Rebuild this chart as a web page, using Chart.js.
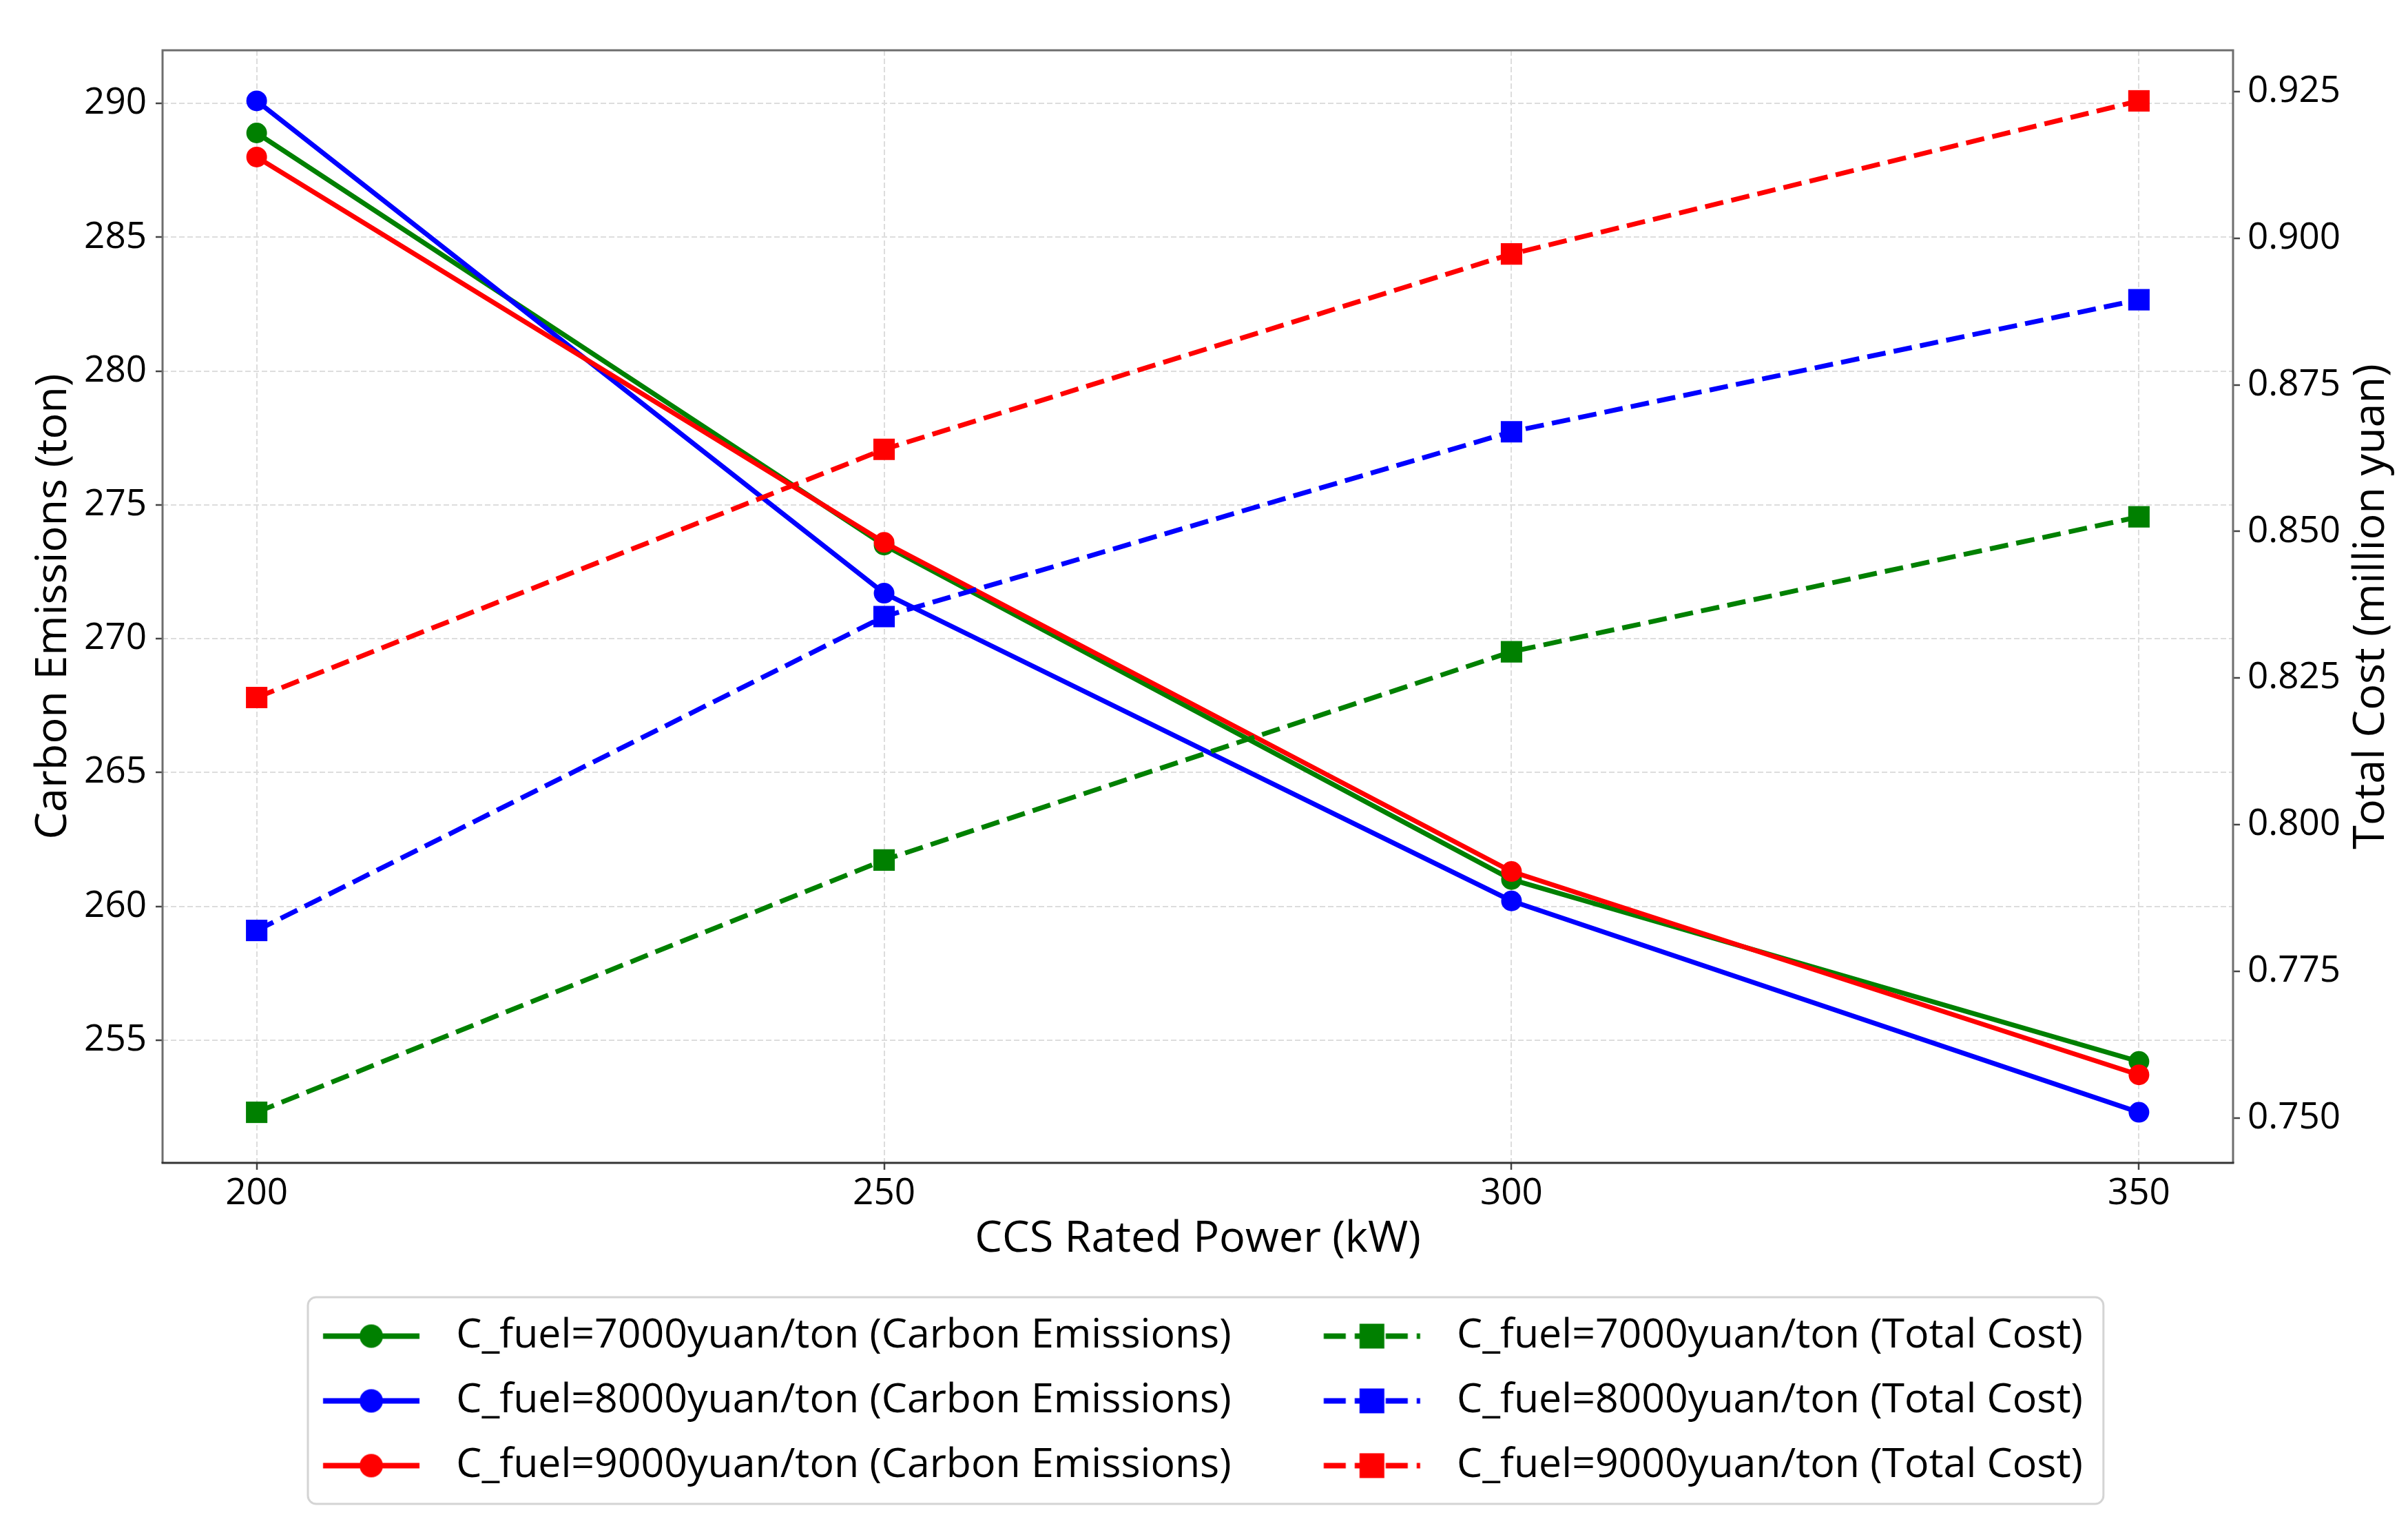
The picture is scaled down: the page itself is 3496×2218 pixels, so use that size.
<!DOCTYPE html>
<html>
<head>
<meta charset="utf-8">
<script src="https://cdn.jsdelivr.net/npm/chart.js@4.4.1/dist/chart.umd.min.js"></script>
<style>
  html, body { margin: 0; padding: 0; background: #ffffff; }
  #wrap { width: 3496px; height: 2218px; }
</style>
</head>
<body>
<div id="wrap"><canvas id="c" width="3496" height="2218"></canvas></div>
<script>
// ---------------- data ----------------
const xValues = [200, 250, 300, 350];
const xTicks = [200, 250, 300, 350];
const leftTicks = [255, 260, 265, 270, 275, 280, 285, 290];
const rightTicks = [0.750, 0.775, 0.800, 0.825, 0.850, 0.875, 0.900, 0.925];

const carbon7000 = [288.9, 273.5, 261.0, 254.2];
const carbon8000 = [290.1, 271.7, 260.2, 252.3];
const carbon9000 = [288.0, 273.6, 261.3, 253.7];

const cost7000 = [0.751, 0.794, 0.8295, 0.8525];
const cost8000 = [0.782, 0.8355, 0.867, 0.8895];
const cost9000 = [0.8217, 0.864, 0.8973, 0.9234];

const labelCarbon7000 = 'C_fuel=7000yuan/ton (Carbon Emissions)';
const labelCarbon8000 = 'C_fuel=8000yuan/ton (Carbon Emissions)';
const labelCarbon9000 = 'C_fuel=9000yuan/ton (Carbon Emissions)';
const labelCost7000 = 'C_fuel=7000yuan/ton (Total Cost)';
const labelCost8000 = 'C_fuel=8000yuan/ton (Total Cost)';
const labelCost9000 = 'C_fuel=9000yuan/ton (Total Cost)';

const xTitle = 'CCS Rated Power (kW)';
const yLeftTitle = 'Carbon Emissions (ton)';
const yRightTitle = 'Total Cost (million yuan)';

// ---------------- styling ----------------
const FONT = "'Open Sans', 'DejaVu Sans', sans-serif";
const GREEN = '#008000', BLUE = '#0000ff', RED = '#ff0000';
const TICK_FONT = 53, TITLE_FONT = 63, LEG_FONT = 59, LEG_PAD = 35;
const LINE_LEN = 140, R_PAD = 24;

// measure legend text to place the second column
const mctx = document.createElement('canvas').getContext('2d');
mctx.font = LEG_FONT + 'px ' + FONT;
const T1 = mctx.measureText(labelCarbon7000).width;
const L_PAD = Math.max(0, 1224.5 - T1);
const HANDLE_W = Math.round(L_PAD + LINE_LEN + R_PAD);

function makeHandle(color, dashed, shape) {
  const c = document.createElement('canvas');
  c.width = HANDLE_W; c.height = 48;
  const g = c.getContext('2d');
  const cy = 24;
  g.strokeStyle = color;
  g.lineWidth = 8;
  g.lineCap = 'butt';
  if (dashed) g.setLineDash([32, 13]);
  g.beginPath();
  g.moveTo(L_PAD, cy);
  g.lineTo(L_PAD + LINE_LEN, cy);
  g.stroke();
  g.setLineDash([]);
  g.fillStyle = color;
  const cx = L_PAD + LINE_LEN / 2;
  if (shape === 'circle') {
    g.beginPath(); g.arc(cx, cy, 17, 0, Math.PI * 2); g.fill();
  } else {
    g.fillRect(cx - 18, cy - 18, 36, 36);
  }
  return c;
}

function pts(arr) { return xValues.map((x, i) => ({ x: x, y: arr[i] })); }

function carbonDS(label, data, color, order) {
  return {
    label: label, data: pts(data), yAxisID: 'y',
    borderColor: color, backgroundColor: color, borderWidth: 7,
    pointStyle: 'circle', pointRadius: 15, pointHoverRadius: 15,
    pointBackgroundColor: color, pointBorderWidth: 0,
    tension: 0, fill: false, order: order,
    handle: makeHandle(color, false, 'circle')
  };
}
function costDS(label, data, color, order) {
  return {
    label: label, data: pts(data), yAxisID: 'y1',
    borderColor: color, backgroundColor: color, borderWidth: 7,
    borderDash: [27, 12],
    pointStyle: 'rect', pointRadius: 22, pointHoverRadius: 22,
    pointBackgroundColor: color, pointBorderWidth: 0,
    tension: 0, fill: false, order: order,
    handle: makeHandle(color, true, 'rect')
  };
}

// legend order (row-major): carbon 7000, cost 7000, carbon 8000, cost 8000, ...
const datasets = [
  carbonDS(labelCarbon7000, carbon7000, GREEN, 5),
  costDS(labelCost7000, cost7000, GREEN, 2),
  carbonDS(labelCarbon8000, carbon8000, BLUE, 4),
  costDS(labelCost8000, cost8000, BLUE, 1),
  carbonDS(labelCarbon9000, carbon9000, RED, 3),
  costDS(labelCost9000, cost9000, RED, 0)
];

function range(arrs, m) {
  const all = [].concat(...arrs);
  const lo = Math.min(...all), hi = Math.max(...all);
  const pad = (hi - lo) * m;
  return [lo - pad, hi + pad];
}
const xr = range([xValues], 0.05);
const yr = range([carbon7000, carbon8000, carbon9000], 0.05);
const y1r = range([cost7000, cost8000, cost9000], 0.05);

const CHART_TOP = 73, CHART_LEFT = 236, CHART_RIGHT_W = 254, X_AXIS_H = 187, BOTTOM_PAD = 51;

const bgAndFrame = {
  id: 'bgAndFrame',
  beforeDraw(chart) {
    const ctx = chart.ctx;
    ctx.save();
    ctx.fillStyle = '#ffffff';
    ctx.fillRect(0, 0, chart.width, chart.height);
    const lg = chart.legend;
    if (lg && lg.legendHitBoxes && lg.legendHitBoxes.length > 1) {
      const hb0 = lg.legendHitBoxes[0], hb1 = lg.legendHitBoxes[1];
      const left = hb0.left + L_PAD - 22;
      const right = hb1.left + hb1.width + 30;
      const top = lg.top + 8, bottom = lg.top + 308;
      const r = 12;
      ctx.beginPath();
      ctx.moveTo(left + r, top);
      ctx.lineTo(right - r, top);
      ctx.arcTo(right, top, right, top + r, r);
      ctx.lineTo(right, bottom - r);
      ctx.arcTo(right, bottom, right - r, bottom, r);
      ctx.lineTo(left + r, bottom);
      ctx.arcTo(left, bottom, left, bottom - r, r);
      ctx.lineTo(left, top + r);
      ctx.arcTo(left, top, left + r, top, r);
      ctx.closePath();
      ctx.fillStyle = '#ffffff';
      ctx.fill();
      ctx.lineWidth = 3;
      ctx.strokeStyle = '#d4d4d4';
      ctx.stroke();
    }
    ctx.restore();
  },
  afterLayout(chart) {
    const lg = chart.legend;
    if (!lg || !lg.lineWidths) return;
    const lw = lg.lineWidths[0];
    const cur = (lg.left + LEG_PAD + lg.right - lw) / 2;
    const want = 469 - L_PAD;
    const d = want - cur;
    lg.left += d; lg.right += d;
  },
  afterDatasetsDraw(chart) {
    const a = chart.chartArea, ctx = chart.ctx;
    ctx.save();
    ctx.lineWidth = 3;
    ctx.strokeStyle = '#6e6e6e';
    ctx.beginPath();
    ctx.moveTo(a.left, a.bottom); ctx.lineTo(a.left, a.top);
    ctx.lineTo(a.right, a.top); ctx.lineTo(a.right, a.bottom);
    ctx.stroke();
    ctx.strokeStyle = '#333333';
    ctx.beginPath();
    ctx.moveTo(a.left - 1.5, a.bottom); ctx.lineTo(a.right + 1.5, a.bottom);
    ctx.stroke();
    ctx.restore();
  },
  afterDraw(chart) {
    // right axis title, reading bottom-to-top like matplotlib's twin ylabel
    const s = chart.scales.y1, a = chart.chartArea, ctx = chart.ctx;
    ctx.save();
    ctx.translate(s.right - 53, (a.top + a.bottom) / 2);
    ctx.rotate(-Math.PI / 2);
    ctx.textAlign = 'center';
    ctx.textBaseline = 'middle';
    ctx.fillStyle = '#000000';
    ctx.font = TITLE_FONT + 'px ' + FONT;
    ctx.fillText(yRightTitle, 0, 0);
    ctx.restore();
  }
};

Chart.defaults.font.family = FONT;
Chart.defaults.color = '#000000';

new Chart(document.getElementById('c'), {
  type: 'line',
  data: { datasets: datasets },
  options: {
    responsive: false,
    devicePixelRatio: 1,
    animation: false,
    events: [],
    layout: { padding: { top: CHART_TOP, bottom: BOTTOM_PAD, left: 0, right: 0 } },
    plugins: {
      tooltip: { enabled: false },
      title: { display: false },
      legend: {
        display: true,
        position: 'bottom',
        labels: {
          usePointStyle: true,
          pointStyleWidth: HANDLE_W,
          padding: LEG_PAD,
          color: '#000000',
          font: { size: LEG_FONT, family: FONT },
          generateLabels: (chart) => chart.data.datasets.map((ds, i) => ({
            text: ds.label,
            pointStyle: ds.handle,
            fillStyle: ds.borderColor,
            strokeStyle: ds.borderColor,
            lineWidth: 0,
            hidden: false,
            datasetIndex: i,
            fontColor: '#000000'
          }))
        }
      }
    },
    scales: {
      x: {
        type: 'linear',
        position: 'bottom',
        min: xr[0], max: xr[1],
        afterBuildTicks: (axis) => { axis.ticks = xTicks.map(v => ({ value: v })); },
        afterFit: (axis) => { axis.height = X_AXIS_H; },
        ticks: { font: { size: TICK_FONT }, padding: 3, color: '#000', maxRotation: 0,
                 callback: (v) => String(v) },
        grid: { color: '#dddddd', lineWidth: 2, tickLength: 10, tickColor: '#444444', tickWidth: 2.5 },
        border: { display: false, dash: [8, 4] },
        title: { display: true, text: xTitle, font: { size: TITLE_FONT }, color: '#000',
                 padding: { top: 0, bottom: 38 } }
      },
      y: {
        type: 'linear',
        position: 'left',
        min: yr[0], max: yr[1],
        afterBuildTicks: (axis) => { axis.ticks = leftTicks.map(v => ({ value: v })); },
        afterFit: (axis) => { axis.width = CHART_LEFT; },
        ticks: { font: { size: TICK_FONT }, padding: 13, color: '#000', callback: (v) => String(v) },
        grid: { color: '#dddddd', lineWidth: 2, tickLength: 10, tickColor: '#444444', tickWidth: 2.5 },
        border: { display: false, dash: [8, 4] },
        title: { display: true, text: yLeftTitle, font: { size: TITLE_FONT }, color: '#000',
                 padding: { top: 40, bottom: 0 } }
      },
      y1: {
        type: 'linear',
        position: 'right',
        min: y1r[0], max: y1r[1],
        afterBuildTicks: (axis) => { axis.ticks = rightTicks.map(v => ({ value: v })); },
        afterFit: (axis) => { axis.width = CHART_RIGHT_W; },
        ticks: { font: { size: TICK_FONT }, padding: 11, color: '#000', callback: (v) => Number(v).toFixed(3) },
        grid: { drawOnChartArea: false, color: '#dddddd', lineWidth: 2, tickLength: 10, tickColor: '#444444', tickWidth: 2.5 },
        border: { display: false },
        title: { display: false, text: yRightTitle }
      }
    }
  },
  plugins: [bgAndFrame]
});
</script>
</body>
</html>
